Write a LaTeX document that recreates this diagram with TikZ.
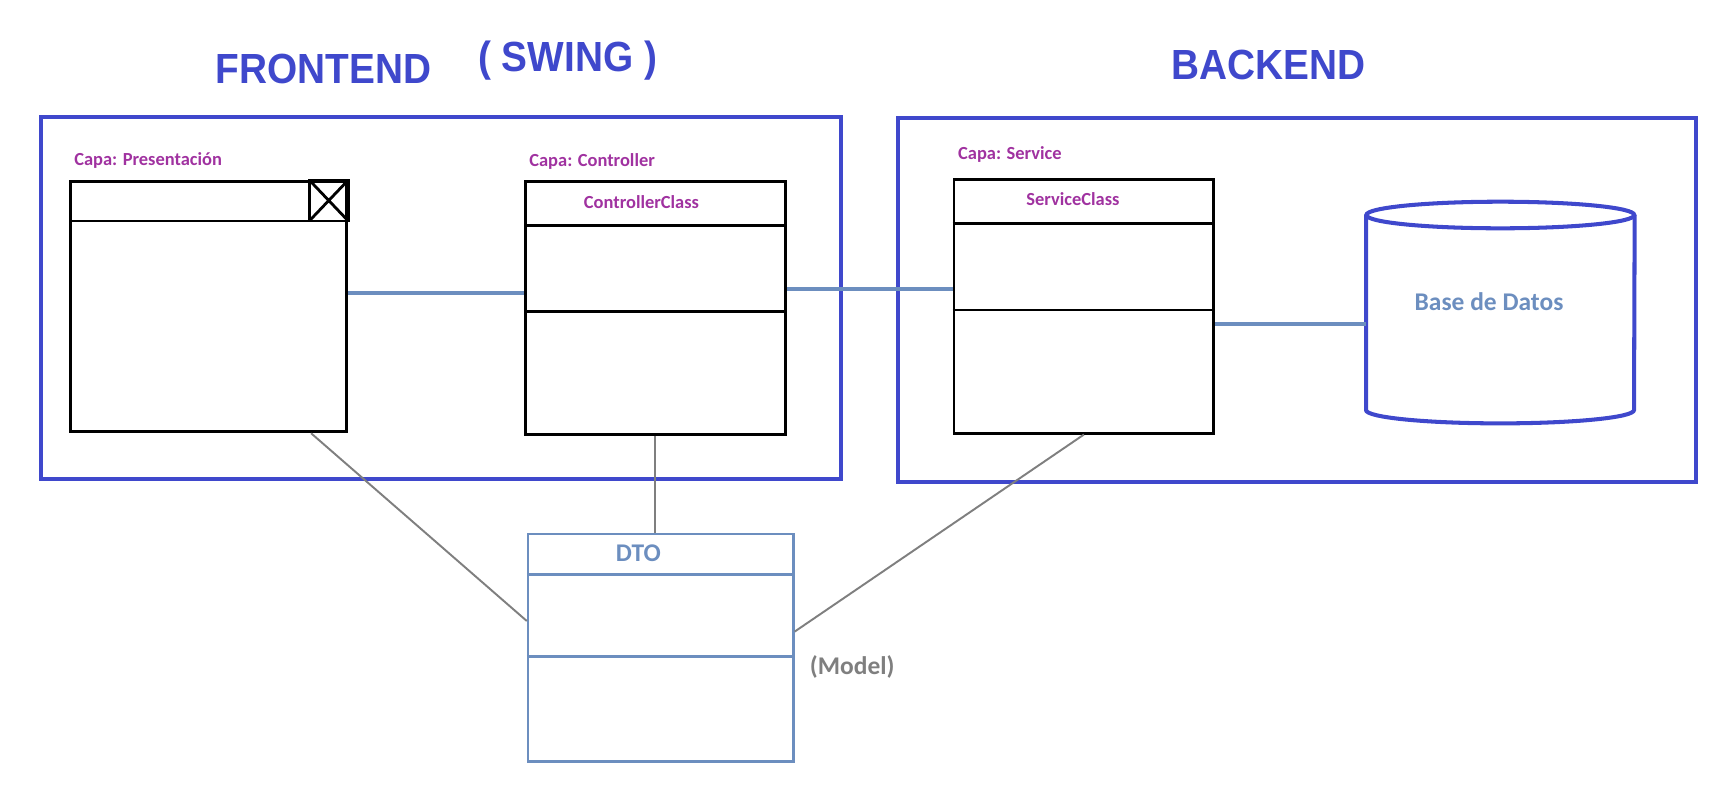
\documentclass[tikz,border=0pt]{standalone}
\usepackage{fontspec}
\setmainfont{Carlito}
\newfontfamily\titlefont[FakeStretch=0.92]{Liberation Sans}
\usetikzlibrary{calc, positioning}

\definecolor{frameblue}{RGB}{63,72,204}
\definecolor{capapurple}{RGB}{160,50,160}
\definecolor{steel}{RGB}{108,142,191}
\definecolor{linegray}{RGB}{127,127,127}

\tikzset{
  layer/.style={draw=frameblue, line width=2.3pt, inner sep=0pt, anchor=north west},
  title/.style={text=frameblue, font=\titlefont\bfseries\fontsize{24}{24}\selectfont, anchor=base, inner sep=0pt},
  capa/.style={text=capapurple, font=\bfseries\fontsize{10.5}{12}\selectfont, anchor=base west, inner sep=0pt},
  classname/.style={text=capapurple, font=\bfseries\fontsize{10.5}{12}\selectfont, inner sep=0pt},
  classbox/.style={draw=black, line width=1.6pt, inner sep=0pt, anchor=north west},
  classline/.style={draw=black, line width=1.6pt},
  thinline/.style={draw=black, line width=1.2pt},
  dtobox/.style={draw=steel, line width=1.4pt, inner sep=0pt, anchor=north west},
  dtoline/.style={draw=steel, line width=1.4pt},
  dbline/.style={draw=frameblue, line width=2.3pt},
  bluetext/.style={text=steel, font=\bfseries\fontsize{14.5}{16}\selectfont, inner sep=0pt},
  link/.style={draw=steel, line width=2.2pt},
  dep/.style={draw=linegray, line width=1.1pt},
}

\begin{document}
\begin{tikzpicture}[x=0.02cm, y=-0.02cm]
  \useasboundingbox (0,0) rectangle (1736,798);

  % titles
  \node[title] (front) at (323.6,83.3) {FRONTEND};
  \node[title] (swing) at (567.5,71.7) {( SWING )};
  \node[title] (back)  at (1268.6,79) {BACKEND};

  % layers
  \node[layer, minimum width=16.0cm, minimum height=7.25cm] (frontend) at (38.9,115) {};
  \node[layer, minimum width=15.96cm, minimum height=7.29cm] (backend) at (896,116) {};

  % presentation window
  \node[capa] (capapres) at (73.9,165) {Capa: Presentación};
  \node[classbox, minimum width=5.53cm, minimum height=5.01cm] (pres) at (69,180) {};
  \draw[thinline] ($(pres.north west)+(0,41)$) -- ($(pres.north east)+(0,41)$);
  \draw[classline] ($(pres.north east)+(-39,0)$) coordinate (xa)
    rectangle ($(pres.north east)+(0,41)$) coordinate (xb);
  \draw[classline] (xa) -- (xb) (xa |- xb) -- (xb |- xa);

  % controller
  \node[capa] (capactrl) at (529,166) {Capa: Controller};
  \node[classbox, minimum width=5.2cm, minimum height=5.07cm] (ctrl) at (524,180) {};
  \node[classname] (ctrlname) at (641.5,201.7) {ControllerClass};
  \draw[classline] ($(ctrl.north west)+(0,45.7)$) -- ($(ctrl.north east)+(0,45.7)$);
  \draw[classline] ($(ctrl.north west)+(0,131.7)$) -- ($(ctrl.north east)+(0,131.7)$);

  % service
  \node[capa] (capaserv) at (957.8,159) {Capa: Service};
  \node[classbox, minimum width=5.2cm, minimum height=5.07cm] (serv) at (952.5,178.3) {};
  \node[classname] (servname) at (1073,199.3) {ServiceClass};
  \draw[classline] ($(serv.north west)+(0,45)$) -- ($(serv.north east)+(0,45)$);
  \draw[thinline] ($(serv.north west)+(0,131.7)$) -- ($(serv.north east)+(0,131.7)$);

  % database
  \node[inner sep=0pt, anchor=north west, minimum width=5.36cm, minimum height=3.888cm] (db) at (1366,215) {};
  \draw[dbline] (db.north) ellipse [x radius=134, y radius=13.3];
  \draw[dbline] (db.north west) -- (db.south west)
    arc[start angle=180, end angle=0, x radius=134, y radius=13.3] -- (db.north east);
  \node[bluetext] (dbname) at (1489,301.7) {Base de Datos};

  % dto
  \node[dtobox, minimum width=5.31cm, minimum height=4.55cm] (dto) at (526.8,532.7) {};
  \node[bluetext] (dtoname) at (638.4,553.3) {DTO};
  \draw[dtoline] ($(dto.north west)+(0,41.6)$) -- ($(dto.north east)+(0,41.6)$);
  \draw[dtoline] ($(dto.north west)+(0,124)$) -- ($(dto.north east)+(0,124)$);
  \node[bluetext, text=linegray] (model) at (852.2,667.3) {(Model)};

  % links
  \draw[link] ($(pres.north east)!0.446!(pres.south east)$) coordinate (l1) -- (l1 -| ctrl.west);
  \draw[link] ($(ctrl.north east)!0.424!(ctrl.south east)$) coordinate (l2) -- (l2 -| serv.west);
  \draw[link] ($(serv.north east)!0.568!(serv.south east)$) coordinate (l3) -- (l3 -| db.west);

  % dto uses
  \draw[dep] ($(pres.south west)!0.867!(pres.south east)$) -- ($(dto.north west)!0.384!(dto.south west)$);
  \draw[dep] (ctrl.south) -- (ctrl.south |- dto.north);
  \draw[dep] (serv.south) -- ($(dto.north east)!0.43!(dto.south east)$);
\end{tikzpicture}
\end{document}
